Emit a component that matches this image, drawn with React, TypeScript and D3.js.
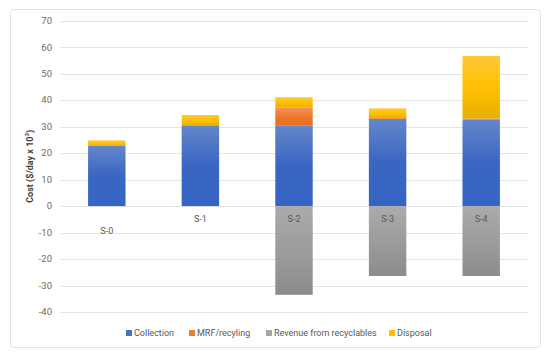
import { useEffect, useRef } from "react";
import * as d3 from "d3";

const categories = ["S-0", "S-1", "S-2", "S-3", "S-4"];
const collection = [22.7, 30.5, 30.5, 32.9, 32.6];
const mrf = [0, 0, 6.8, 0.3, 0.5];
const revenue = [0, 0, -33.5, -26.4, -26.4];
const disposal = [2.1, 3.9, 3.8, 3.7, 23.6];
const yTicks = [70, 60, 50, 40, 30, 20, 10, 0, -10, -20, -30, -40];

const seriesNames = ["Collection", "MRF/recyling", "Revenue from recyclables", "Disposal"];
const seriesColors = ["#4472c4", "#ed7d31", "#a5a5a5", "#ffc000"];
// gradient stops: top, middle, bottom
const gradients: [string, string, string][] = [
  ["#6487cb", "#3a66c2", "#3565c4"],
  ["#f29458", "#ed7a2e", "#e86e1c"],
  ["#ababab", "#9c9c9c", "#8c8c8c"],
  ["#ffc83a", "#ffc000", "#e6b100"],
];

const App = () => {
  const svgRef = useRef<SVGSVGElement | null>(null);

  useEffect(() => {
    if (!svgRef.current) return;
    const width = 550;
    const height = 357;
    const svg = d3.select(svgRef.current);
    svg.selectAll("*").remove();
    svg.attr("width", width).attr("height", height)
      .style("position", "absolute").style("left", "0px").style("top", "0px")
      .style("font-family", "Roboto, 'Liberation Sans', sans-serif");

    // chart frame
    svg.append("rect")
      .attr("x", 10.5).attr("y", 9.5).attr("width", 530).attr("height", 338)
      .attr("rx", 3).attr("fill", "#fff").attr("stroke", "#e3e3e3");

    const defs = svg.append("defs");
    gradients.forEach((g, i) => {
      const lg = defs.append("linearGradient").attr("id", `grad${i}`)
        .attr("x1", 0).attr("y1", 0).attr("x2", 0).attr("y2", 1);
      lg.append("stop").attr("offset", "0%").attr("stop-color", g[0]);
      lg.append("stop").attr("offset", "50%").attr("stop-color", g[1]);
      lg.append("stop").attr("offset", "100%").attr("stop-color", g[2]);
    });

    const x = d3.scaleBand<string>().domain(categories).range([60, 528])
      .paddingInner(0.6).paddingOuter(0.3);
    const y = d3.scaleLinear().domain([-40, 70]).range([312, 20.7]);

    // grid
    svg.append("g").selectAll("line").data(yTicks).join("line")
      .attr("x1", 60).attr("x2", 528)
      .attr("y1", (d) => Math.round(y(d)) + 0.5).attr("y2", (d) => Math.round(y(d)) + 0.5)
      .attr("stroke", "#e1e4ea").attr("stroke-width", 1);

    svg.append("g").selectAll("text").data(yTicks).join("text")
      .attr("x", 52).attr("y", (d) => y(d)).attr("dy", "0.35em")
      .attr("text-anchor", "end").attr("font-size", 9.5).attr("fill", "#6b6b6b")
      .text((d) => d);

    // stacked bars
    const series = [collection, mrf, revenue, disposal];
    categories.forEach((c, i) => {
      let pos = 0;
      let neg = 0;
      series.forEach((s, k) => {
        const v = s[i];
        if (!v) return;
        let y0: number, y1: number;
        if (v >= 0) { y0 = pos; y1 = pos + v; pos = y1; }
        else { y0 = neg + v; y1 = neg; neg = y0; }
        svg.append("rect")
          .attr("x", x(c)!).attr("width", x.bandwidth())
          .attr("y", y(y1)).attr("height", y(y0) - y(y1))
          .attr("fill", `url(#grad${k})`);
      });
    });

    // category labels
    svg.append("g").selectAll("text").data(categories).join("text")
      .attr("x", (d) => x(d)! + x.bandwidth() / 2)
      .attr("y", (d, i) => y(0) + (i === 0 ? 28 : 16))
      .attr("text-anchor", "middle").attr("font-size", 9).attr("fill", "#595959")
      .text((d) => d);

    // y axis title
    const t = svg.append("text")
      .attr("transform", `translate(33,${y(15)}) rotate(-90)`)
      .attr("text-anchor", "middle").attr("font-size", 9).attr("font-weight", "bold")
      .attr("fill", "#404040");
    t.append("tspan").text("Cost ($/day x 10");
    t.append("tspan").attr("font-size", 6).attr("dy", -4).text("3");
    t.append("tspan").attr("dy", 4).text(")");

    // legend
    const legendX = [126, 189, 266, 389];
    const lg = svg.append("g").selectAll("g").data(seriesNames).join("g")
      .attr("transform", (d, i) => `translate(${legendX[i]},333)`);
    lg.append("rect").attr("x", 0).attr("y", -3).attr("width", 6).attr("height", 6)
      .attr("fill", (d, i) => seriesColors[i]);
    lg.append("text").attr("x", 8).attr("y", 0).attr("dy", "0.35em")
      .attr("font-size", 9).attr("fill", "#595959").text((d) => d);
  }, []);

  return <svg ref={svgRef}></svg>;
};

export default App;
